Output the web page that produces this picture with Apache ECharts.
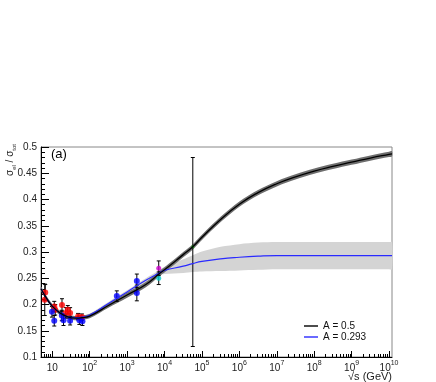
<!DOCTYPE html>
<html>
<head>
<meta charset="utf-8">
<script src="https://cdn.jsdelivr.net/npm/echarts@6/dist/echarts.min.js"></script>
<style>
html, body { margin: 0; padding: 0; background: #fff; }
#chartmain { width: 436px; height: 382px; }
</style>
</head>
<body>
<div id="chartmain"></div>
<script>
// sqrt(s) grid of the two model curves (GeV)
var curveS = [5, 7, 10, 16, 25, 40, 63, 100, 316, 1000, 3162, 7600, 10000, 31623, 57000,
	1e5, 3.16e5, 1e6, 3.16e6, 1e7, 3.16e7, 1e8, 3.16e8, 1e9, 3.16e9, 1e10, 1.2e10];
// A = 0.5
var blackCurve = [0.230, 0.212, 0.197, 0.184, 0.177, 0.174, 0.175, 0.178, 0.198, 0.218, 0.238, 0.260, 0.266,
	0.295, 0.310, 0.328, 0.362, 0.391, 0.413, 0.430, 0.443, 0.454, 0.463, 0.471, 0.479, 0.486, 0.487];
var blackErr = [0.004, 0.004, 0.004, 0.004, 0.004, 0.004, 0.004, 0.004, 0.004, 0.005, 0.005, 0.005, 0.005,
	0.005, 0.005, 0.005, 0.005, 0.005, 0.005, 0.005, 0.005, 0.005, 0.005, 0.005, 0.005, 0.005, 0.005];
// A = 0.293
var blueCurve = [0.230, 0.212, 0.197, 0.184, 0.177, 0.175, 0.176, 0.180, 0.202, 0.224, 0.246, 0.261, 0.265,
	0.273, 0.278, 0.282, 0.287, 0.290, 0.292, 0.293, 0.293, 0.293, 0.293, 0.293, 0.293, 0.293, 0.293];
var blueErr = [0.003, 0.003, 0.003, 0.003, 0.003, 0.003, 0.003, 0.003, 0.003, 0.003, 0.004, 0.005, 0.007,
	0.013, 0.016, 0.019, 0.023, 0.025, 0.026, 0.026, 0.026, 0.026, 0.026, 0.026, 0.026, 0.026, 0.026];

// measurements: sqrt(s), value, error
var redS = [6.3, 6.5, 11.3, 12, 18.2, 23, 26, 30, 49, 62];
var redV = [0.209, 0.223, 0.196, 0.190, 0.199, 0.184, 0.190, 0.184, 0.177, 0.176];
var redE = [0.030, 0.015, 0.010, 0.010, 0.012, 0.010, 0.008, 0.010, 0.006, 0.006];
var blueS = [9.8, 11.3, 18, 20, 30, 53, 64, 530, 1820, 1820];
var blueV = [0.186, 0.169, 0.179, 0.170, 0.169, 0.170, 0.168, 0.216, 0.245, 0.222];
var blueE = [0.010, 0.010, 0.010, 0.010, 0.008, 0.008, 0.008, 0.010, 0.013, 0.015];
var magS = [7000], magV = [0.269], magE = [0.014];
var cyanS = [7000], cyanV = [0.250], cyanE = [0.012];
var greenS = [57000], greenV = [0.310], greenLo = [0.120], greenHi = [0.480];

var majorTicks = [10, 1e2, 1e3, 1e4, 1e5, 1e6, 1e7, 1e8, 1e9, 1e10];
var minorTicks = [];
for (var d = 0; d <= 9; d++) {
	for (var k = 2; k <= 9; k++) {
		var t = k * Math.pow(10, d);
		if (t > 5 && t < 1.2e10) minorTicks.push(t);
	}
}

function bandSeries(curve, err, color) {
	return {
		type : 'custom',
		silent : true,
		xAxisIndex : 0,
		data : [[curveS[0], curve[0]]],
		renderItem : function(params, api) {
			var pts = [];
			for (var i = 0; i < curveS.length; i++) pts.push(api.coord([curveS[i], curve[i] + err[i]]));
			for (var j = curveS.length - 1; j >= 0; j--) pts.push(api.coord([curveS[j], curve[j] - err[j]]));
			return { type : 'polygon', shape : { points : pts, smooth : 0.3 }, style : { fill : color } };
		}
	};
}

function pointSeries(xs, ys, lo, hi, color, size) {
	var data = [];
	for (var i = 0; i < xs.length; i++) data.push([xs[i], ys[i], lo[i], hi[i]]);
	return [{
		type : 'custom',
		silent : true,
		data : data,
		encode : { x : 0, y : [1, 2, 3] },
		renderItem : function(params, api) {
			var top = api.coord([api.value(0), api.value(3)]);
			var bot = api.coord([api.value(0), api.value(2)]);
			var ls = { stroke : '#000', lineWidth : 1 };
			return { type : 'group', children : [
				{ type : 'line', shape : { x1 : top[0], y1 : top[1], x2 : bot[0], y2 : bot[1] }, style : ls },
				{ type : 'line', shape : { x1 : top[0] - 2, y1 : top[1], x2 : top[0] + 2, y2 : top[1] }, style : ls },
				{ type : 'line', shape : { x1 : bot[0] - 2, y1 : bot[1], x2 : bot[0] + 2, y2 : bot[1] }, style : ls }
			] };
		}
	}, {
		type : 'scatter',
		silent : true,
		symbol : 'circle',
		symbolSize : size,
		itemStyle : { color : color },
		data : data.map(function(p) { return [p[0], p[1]]; })
	}];
}

function symErr(ys, es, sign) {
	return ys.map(function(y, i) { return y + sign * es[i]; });
}

function line(curve) {
	return curveS.map(function(s, i) { return [s, curve[i]]; });
}

var series = [
	bandSeries(blueCurve, blueErr, '#d4d4d4'),
	bandSeries(blackCurve, blackErr, '#6e6e6e'),
	{ name : 'A = 0.293', type : 'line', smooth : true, symbol : 'none', silent : true,
		lineStyle : { color : '#2a2aff', width : 1.2 }, itemStyle : { color : '#2a2aff' }, data : line(blueCurve) },
	{ name : 'A = 0.5', type : 'line', smooth : true, symbol : 'none', silent : true,
		lineStyle : { color : '#000', width : 1.3 }, itemStyle : { color : '#000' }, data : line(blackCurve) }
];
series = series.concat(
	pointSeries(redS, redV, symErr(redV, redE, -1), symErr(redV, redE, 1), '#ff0000', 6),
	pointSeries(blueS, blueV, symErr(blueV, blueE, -1), symErr(blueV, blueE, 1), '#0000ff', 6),
	pointSeries(magS, magV, symErr(magV, magE, -1), symErr(magV, magE, 1), '#cc00cc', 5),
	pointSeries(cyanS, cyanV, symErr(cyanV, cyanE, -1), symErr(cyanV, cyanE, 1), '#00cccc', 5),
	pointSeries(greenS, greenV, greenLo, greenHi, '#00aa00', 3)
);

var font = 'Liberation Sans, Arial, sans-serif';
var legendLine = 'path://M0,0 L14,0 L14,1.4 L0,1.4 Z';
var option = {
	animation : false,
	textStyle : { fontFamily : font },
	grid : { left : 41, right : 44, top : 147, bottom : 25, show : true, borderColor : '#888', borderWidth : 1 },
	legend : {
		orient : 'vertical', left : 304, top : 321, itemWidth : 14, itemHeight : 2, itemGap : 1, padding : 0,
		data : [{ name : 'A = 0.5', icon : legendLine }, { name : 'A = 0.293', icon : legendLine }],
		textStyle : { fontSize : 10, lineHeight : 10, color : '#111', fontFamily : font }
	},
	xAxis : [{
		type : 'log', min : 5, max : 1.2e10,
		axisLine : { show : true, lineStyle : { color : '#000' } },
		splitLine : { show : false },
		axisTick : { show : true, inside : true, length : 6, customValues : majorTicks, lineStyle : { color : '#000' } },
		axisLabel : {
			show : true, customValues : majorTicks, margin : 3,
			formatter : function(v) {
				var n = Math.round(Math.log(v) / Math.LN10);
				if (n === 1) return '{b|10}';
				return '{b|10}{s|' + n + '}';
			},
			rich : {
				b : { fontSize : 10, color : '#222', lineHeight : 13, verticalAlign : 'bottom', fontFamily : font },
				s : { fontSize : 7, color : '#222', lineHeight : 13, verticalAlign : 'top', fontFamily : font }
			}
		}
	}, {
		type : 'log', min : 5, max : 1.2e10, position : 'bottom',
		axisLine : { show : false },
		splitLine : { show : false },
		axisTick : { show : true, inside : true, length : 3, customValues : minorTicks, lineStyle : { color : '#000' } },
		axisLabel : { show : false }
	}],
	yAxis : {
		type : 'value', min : 0.1, max : 0.5, interval : 0.05,
		axisLine : { show : true, lineStyle : { color : '#000' } },
		splitLine : { show : false },
		axisTick : { show : true, inside : true, length : 8, lineStyle : { color : '#000' } },
		minorTick : { show : true, splitNumber : 5, length : 4, lineStyle : { color : '#000' } },
		axisLabel : { show : true, fontSize : 10, color : '#222', margin : 4 }
	},
	graphic : [
		{ type : 'text', left : 51, top : 148, style : { text : '(a)', fontSize : 13, fill : '#000', fontFamily : font } },
		{ type : 'text', x : 11, y : 176, rotation : Math.PI / 2,
			style : { text : '{m|σ}{s|el}{m| / σ}{s|tot}', textAlign : 'left', textVerticalAlign : 'middle',
				rich : {
					m : { fontSize : 10, fill : '#222', lineHeight : 12, verticalAlign : 'top', fontFamily : font },
					s : { fontSize : 6, fill : '#222', lineHeight : 12, verticalAlign : 'bottom', fontFamily : font }
				} } },
		{ type : 'text', right : 44, top : 371, style : { text : '√s (GeV)', fontSize : 11, fill : '#222', fontFamily : font } }
	],
	series : series
};

var myChart = echarts.init(document.getElementById('chartmain'));
myChart.setOption(option);
</script>
</body>
</html>
